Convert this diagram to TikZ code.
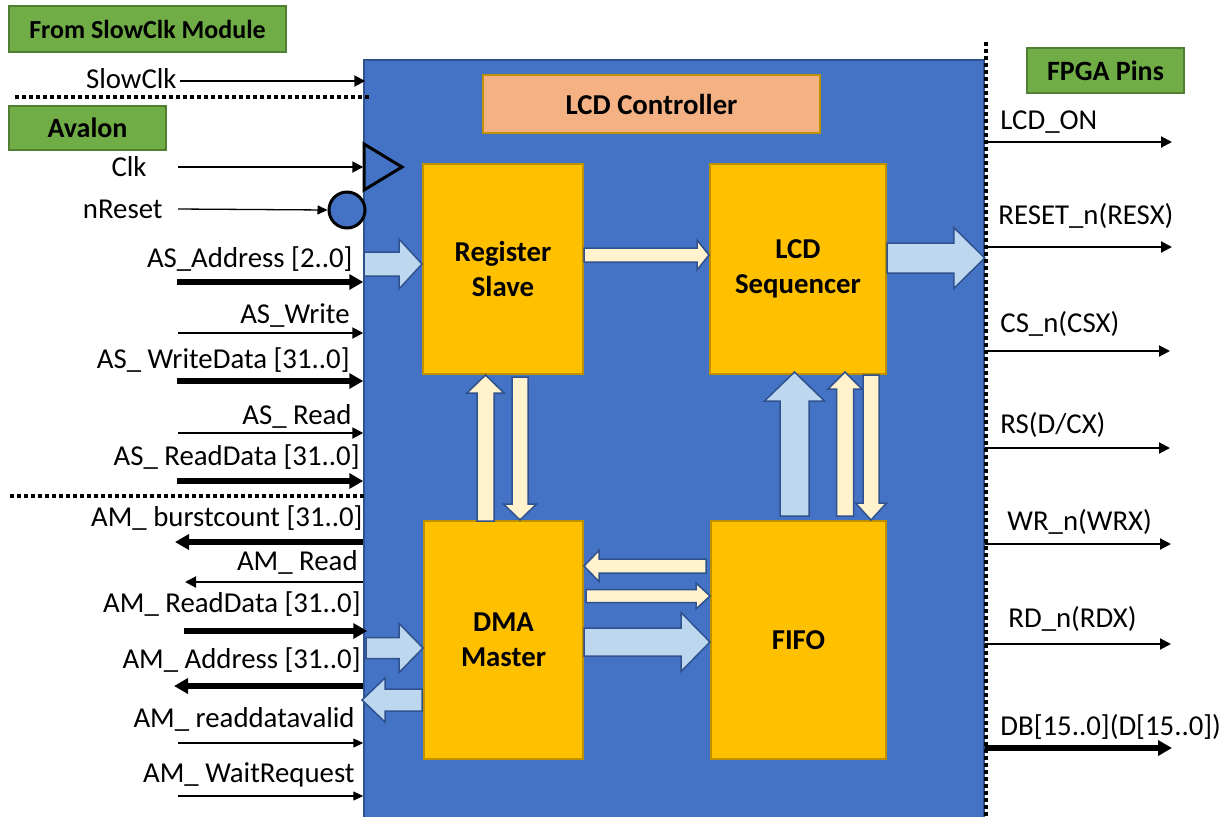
\documentclass[tikz,border=0pt]{standalone}
\usepackage{fontspec}
\setmainfont{Carlito}
\usetikzlibrary{arrows.meta,calc}

\definecolor{ctrlblue}{HTML}{4472C4}
\definecolor{ctrledge}{HTML}{2F528F}
\definecolor{unitgold}{HTML}{FFC000}
\definecolor{unitedge}{HTML}{BF9000}
\definecolor{peach}{HTML}{F4B183}
\definecolor{leafgreen}{HTML}{70AD47}
\definecolor{leafedge}{HTML}{507E32}
\definecolor{busblue}{HTML}{BDD7EE}
\definecolor{cream}{HTML}{FFF2CC}

% Wide block arrow from #2 to #3: half shaft #4, half head #5, head length #6
\newcommand\blockarr[6]{%
  \draw[#1] ($#2!#4!90:#3$) -- ($#3!#6!#2!#4!-90:#2$) -- ($#3!#6!#2!#5!-90:#2$)
    -- #3 -- ($#3!#6!#2!#5!90:#2$) -- ($#3!#6!#2!#4!90:#2$)
    -- ($#2!#4!-90:#3$) -- cycle;}

\begin{document}
\begin{tikzpicture}[x=0.5pt,y=-0.5pt,
  txt/.style={font=\fontsize{14.4}{17.3}\selectfont, inner sep=0pt},
  lbl/.style={txt, anchor=base east},
  rlbl/.style={txt, anchor=base west},
  tag/.style={draw=leafedge, line width=1pt, fill=leafgreen, inner sep=0pt,
    font=\bfseries\fontsize{14}{17}\selectfont},
  unit/.style={draw=unitedge, line width=1pt, fill=unitgold, inner sep=0pt,
    align=center, font=\bfseries\fontsize{14.4}{17.5}\selectfont},
  thinsig/.style={line width=1pt, -{Triangle[length=5.5pt,width=5.5pt]}},
  finesig/.style={line width=0.65pt, -{Triangle[length=5pt,width=4.5pt]}},
  thicksig/.style={line width=3pt, -{Triangle[length=7pt,width=7.5pt]}},
  busarr/.style={draw=ctrledge, line width=0.75pt, fill=busblue, line join=miter},
  ctlarr/.style={draw=ctrledge, line width=0.75pt, fill=cream, line join=miter},
  sepline/.style={line width=2pt, dash pattern=on 2pt off 1.5pt},
]
\useasboundingbox (0,0) rectangle (1232,816);

% group tags
\node[tag, minimum width=138.5pt, minimum height=23pt,
  font=\bfseries\fontsize{13}{16}\selectfont] (tslow) at (147.5,29) {From SlowClk Module};
\node[tag, minimum width=78.5pt, minimum height=22pt] (tavalon) at (87.5,128) {Avalon};
\node[tag, minimum width=78.5pt, minimum height=22.5pt] (tpins) at (1105.5,70.5) {FPGA Pins};

% controller body
\node[draw=ctrledge, line width=0.75pt, fill=ctrlblue, minimum width=310pt,
  minimum height=380pt, inner sep=0pt] (ctrl) at (674,440) {};
\node[draw=unitedge, line width=1pt, fill=peach, minimum width=168.5pt,
  minimum height=29pt, inner sep=0pt, font=\bfseries\fontsize{14.4}{17}\selectfont]
  (title) at (651.5,104) {LCD Controller};

% functional units
\node[unit, minimum width=80pt, minimum height=105pt] (reg) at (503,269) {Register\\Slave};
\node[unit, minimum width=88pt, minimum height=105pt] (seq) at (798,269) {LCD\\Sequencer};
\node[unit, minimum width=79.5pt, minimum height=119pt] (dma) at (503.5,640) {DMA\\Master};
\node[unit, minimum width=87.5pt, minimum height=119pt] (fifo) at (798.5,640) {FIFO};

% internal block arrows
\coordinate (asA) at ($(reg.west)+(-58,-5)$);
\coordinate (asB) at ($(reg.west)+(0,-5)$);
\blockarr{busarr}{(asA)}{(asB)}{6pt}{12.5pt}{11.5pt}

\coordinate (rsA) at ($(reg.east)+(0,-14)$);
\coordinate (rsB) at (rsA -| seq.west);
\blockarr{ctlarr}{(rsA)}{(rsB)}{3.5pt}{7.5pt}{6pt}

\coordinate (lpA) at ($(seq.east)+(0,-11)$);
\coordinate (lpB) at (lpA -| ctrl.east);
\blockarr{busarr}{(lpA)}{(lpB)}{7.5pt}{15.25pt}{15.5pt}

\coordinate (duA) at ($(dma.north)+(-18,1)$);
\coordinate (duB) at (duA |- reg.south);
\blockarr{ctlarr}{(duA)}{(duB)}{4.25pt}{9.25pt}{9pt}

\coordinate (rdA) at ($(reg.south)+(17,2)$);
\coordinate (rdB) at (rdA |- dma.north);
\blockarr{ctlarr}{(rdA)}{(rdB)}{4pt}{8.25pt}{8pt}

\coordinate (fuA) at ($(fifo.north)+(-4,-4)$);
\coordinate (fuB) at ($(fuA |- seq.south)+(0,-3)$);
\blockarr{busarr}{(fuA)}{(fuB)}{7.25pt}{15pt}{14.5pt}

\coordinate (fcA) at ($(fifo.north)+(46.5,-4)$);
\coordinate (fcB) at ($(fcA |- seq.south)+(0,-3)$);
\blockarr{ctlarr}{(fcA)}{(fcB)}{4.25pt}{8.5pt}{8.5pt}

\coordinate (sfA) at ($(seq.south)+(73,0)$);
\coordinate (sfB) at (sfA |- fifo.north);
\blockarr{ctlarr}{(sfA)}{(sfB)}{4pt}{7.75pt}{8.5pt}

\coordinate (fdA) at ($(fifo.west)+(-4,-74)$);
\coordinate (fdB) at (fdA -| dma.east);
\blockarr{ctlarr}{(fdA)}{(fdB)}{3.5pt}{7.75pt}{7.5pt}

\coordinate (dfA) at ($(dma.east)+(2,-44)$);
\coordinate (dfB) at (dfA -| fifo.west);
\blockarr{ctlarr}{(dfA)}{(dfB)}{3.25pt}{6.5pt}{7pt}

\coordinate (dbA) at ($(dma.east)+(0,2)$);
\coordinate (dbB) at (dbA -| fifo.west);
\blockarr{busarr}{(dbA)}{(dbB)}{7pt}{14.75pt}{14.5pt}

\coordinate (miA) at ($(dma.west)+(-57,8)$);
\coordinate (miB) at (miA -| dma.west);
\blockarr{busarr}{(miA)}{(miB)}{5.25pt}{12.25pt}{12pt}

\coordinate (moA) at ($(dma.west)+(-1,60)$);
\coordinate (moB) at ($(dma.west)+(-61,60)$);
\blockarr{busarr}{(moA)}{(moB)}{5.5pt}{11pt}{11.5pt}

% interface separators
\draw[sepline] (15,97) -- (369,97);
\draw[sepline] (10,496) -- (365,496);
\draw[sepline] (986,42) -- (986,816);

% clock and reset markers
\draw[line width=1.5pt, fill=ctrlblue, line join=miter] (364,144) -- (402,167) -- (364,190) -- cycle;
\node[circle, draw, line width=1.5pt, fill=ctrlblue, minimum size=18pt, inner sep=0pt] (rst) at (347,210) {};

% slow clock input
\node[lbl] (lslow) at (177,88) {SlowClk};
\coordinate (slowA) at (180,81);
\draw[thinsig] (slowA) -- ($(ctrl.west |- slowA)+(2,0)$);

% Avalon slave side
\node[lbl] (lclk) at (147,176) {Clk};
\coordinate (clkA) at (178,167);
\draw[thinsig] (clkA) -- (ctrl.west |- clkA);

\node[lbl] (lrst) at (163,218) {nReset};
\coordinate (rstA) at (178,209);
\draw[finesig] (rstA) -- (rst.west);

\node[lbl] (lasa) at (353,267) {AS\_Address [2..0]};
\coordinate (asaA) at (177,282);
\draw[thicksig] (asaA) -- (ctrl.west |- asaA);

\node[lbl] (lasw) at (350,323) {AS\_Write};
\coordinate (aswA) at (178,333);
\draw[thinsig] (aswA) -- (ctrl.west |- aswA);

\node[lbl] (laswd) at (350,368) {AS\_ WriteData [31..0]};
\coordinate (aswdA) at (177,381);
\draw[thicksig] (aswdA) -- (ctrl.west |- aswdA);

\node[lbl] (lasr) at (352,424) {AS\_ Read};
\coordinate (asrA) at (178,433);
\draw[thinsig] (asrA) -- (ctrl.west |- asrA);

\node[lbl] (lasrd) at (360,465) {AS\_ ReadData [31..0]};
\coordinate (asrdA) at (177,481);
\draw[thicksig] (asrdA) -- (ctrl.west |- asrdA);

% Avalon master side
\node[lbl] (lambc) at (363,526) {AM\_ burstcount [31..0]};
\coordinate (ambcA) at (175,542);
\draw[thicksig] (ctrl.west |- ambcA) -- (ambcA);

\node[lbl] (lamr) at (358,570) {AM\_ Read};
\coordinate (amrA) at (185,582);
\draw[thinsig] (ctrl.west |- amrA) -- (amrA);

\node[lbl] (lamrd) at (361,612) {AM\_ ReadData [31..0]};
\coordinate (amrdA) at (184,631);
\draw[thicksig] (amrdA) -- ($(ctrl.west |- amrdA)+(4,0)$);

\node[lbl] (lama) at (361,668) {AM\_ Address [31..0]};
\coordinate (amaA) at (174,686);
\draw[thicksig] (ctrl.west |- amaA) -- (amaA);

\node[lbl] (lamv) at (355,727) {AM\_ readdatavalid};
\coordinate (amvA) at (178,743);
\draw[finesig] (amvA) -- (ctrl.west |- amvA);

\node[lbl] (lamw) at (355,782) {AM\_ WaitRequest};
\coordinate (amwA) at (178,796);
\draw[finesig] (amwA) -- (ctrl.west |- amwA);

% FPGA pin outputs
\node[rlbl] (lon) at (1000,129) {LCD\_ON};
\coordinate (onB) at (1172,142);
\draw[thinsig] (ctrl.east |- onB) -- (onB);

\node[rlbl] (lres) at (998,224) {RESET\_n(RESX)};
\coordinate (resB) at (1172,247);
\draw[thinsig] (ctrl.east |- resB) -- (resB);

\node[rlbl] (lcs) at (1000,332) {CS\_n(CSX)};
\coordinate (csB) at (1170,351);
\draw[thinsig] (ctrl.east |- csB) -- (csB);

\node[rlbl] (lrs) at (1000,433) {RS(D/CX)};
\coordinate (rsgB) at (1170,448);
\draw[thinsig] (ctrl.east |- rsgB) -- (rsgB);

\node[rlbl] (lwr) at (1007,530) {WR\_n(WRX)};
\coordinate (wrB) at (1171,544);
\draw[thinsig] (ctrl.east |- wrB) -- (wrB);

\node[rlbl] (lrd) at (1008,627) {RD\_n(RDX)};
\coordinate (rdgB) at (1171,644);
\draw[thinsig] (ctrl.east |- rdgB) -- (rdgB);

\node[rlbl] (ldb) at (1000,735) {DB[15..0](D[15..0])};
\coordinate (dbgB) at (1172,748);
\draw[thicksig] (ctrl.east |- dbgB) -- (dbgB);
\end{tikzpicture}
\end{document}
